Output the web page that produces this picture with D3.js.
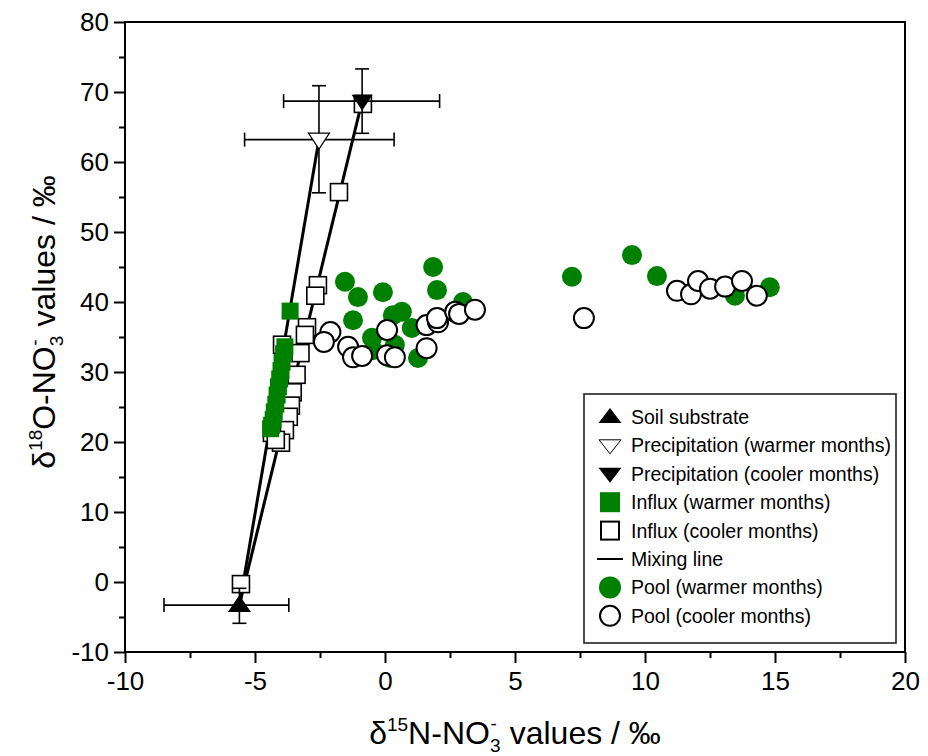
<!DOCTYPE html>
<html>
<head>
<meta charset="utf-8">
<script src="https://cdn.jsdelivr.net/npm/d3@7"></script>
<style>
  body { margin: 0; background: #fff; }
  svg { font-family: "Liberation Sans", Arial, sans-serif; }
</style>
</head>
<body>
<div id="chart"></div>
<script>
// ---- data (‰) ----
const soil = [{ x: -5.6, y: -3.3, xLo: -8.5, xHi: -3.7, yLo: -5.9, yHi: -0.9 }];
const precipWarm = [{ x: -2.54, y: 63.2, xLo: -5.4, xHi: 0.35, yLo: 55.6, yHi: 70.9 }];
const precipCool = [{ x: -0.88, y: 68.7, xLo: -3.9, xHi: 2.1, yLo: 64.1, yHi: 73.3 }];

const influxCool = [
  [-0.85, 68.3], [-1.77, 55.7], [-2.58, 42.4], [-2.68, 40.9], [-3.0, 36.4],
  [-3.08, 35.3], [-3.25, 32.7], [-3.4, 29.6], [-3.55, 27.1], [-3.62, 25.2],
  [-3.7, 23.6], [-3.85, 21.7], [-4.0, 19.9], [-3.96, 33.9], [-4.35, 21.3],
  [-4.2, 20.3], [-5.54, -0.3]
];
const influxWarm = [
  [-3.65, 38.7], [-3.85, 33.6], [-3.9, 32.6], [-3.96, 31.4], [-4.0, 30.2],
  [-4.05, 29.0], [-4.1, 27.9], [-4.15, 26.7], [-4.2, 25.4], [-4.26, 24.3],
  [-4.3, 23.2], [-4.36, 22.4], [-4.4, 21.9]
];
const poolWarm = [
  [-1.54, 42.9], [-1.04, 40.7], [-1.23, 37.4], [-0.08, 41.4], [1.85, 45.0],
  [2.0, 41.7], [0.3, 38.1], [0.65, 38.6], [1.03, 36.3], [-0.5, 34.9],
  [0.2, 32.0], [0.38, 33.9], [1.27, 32.0], [3.0, 40.0], [-0.46, 33.1],
  [7.19, 43.6], [9.5, 46.7], [10.46, 43.7], [13.46, 40.9], [14.8, 42.1]
];
const poolCool = [
  [-2.1, 35.7], [-2.35, 34.3], [-1.42, 33.6], [-1.23, 32.1], [-0.88, 32.3],
  [0.08, 36.0], [0.08, 32.4], [0.38, 32.1], [1.6, 36.7], [1.6, 33.4],
  [2.04, 37.1], [2.0, 37.7], [2.7, 38.6], [2.85, 38.3], [3.46, 38.9],
  [7.65, 37.7], [11.23, 41.6], [11.77, 41.1], [12.04, 43.0], [12.5, 41.9],
  [13.08, 42.2], [13.73, 43.0], [14.3, 40.9]
];

const xTicks = [-10, -5, 0, 5, 10, 15, 20];
const xMinor = [-7.5, -2.5, 2.5, 7.5, 12.5, 17.5];
const yTicks = [-10, 0, 10, 20, 30, 40, 50, 60, 70, 80];
const yMinor = [-5, 5, 15, 25, 35, 45, 55, 65, 75];

const legendItems = [
  { type: 'triUp', label: 'Soil substrate' },
  { type: 'triDownOpen', label: 'Precipitation (warmer months)' },
  { type: 'triDown', label: 'Precipitation (cooler months)' },
  { type: 'sqGreen', label: 'Influx (warmer months)' },
  { type: 'sqOpen', label: 'Influx (cooler months)' },
  { type: 'line', label: 'Mixing line' },
  { type: 'circGreen', label: 'Pool (warmer months)' },
  { type: 'circOpen', label: 'Pool (cooler months)' }
];

const GREEN = '#008000';
const W = 928, H = 756;
const PL = 125, PR = 905, PT = 22, PB = 652;

const svg = d3.select('#chart').append('svg').attr('width', W).attr('height', H);
const x = d3.scaleLinear().domain([-10, 20]).range([PL, PR]);
const y = d3.scaleLinear().domain([-10, 80]).range([PB, PT]);

// triangle paths (w x h)
function triPath(up, w, h) {
  return up
    ? `M0,${-h * 0.6}L${w / 2},${h * 0.4}L${-w / 2},${h * 0.4}Z`
    : `M0,${h * 0.6}L${w / 2},${-h * 0.4}L${-w / 2},${-h * 0.4}Z`;
}

// ---- axes ----
const xAxis = svg.append('g').attr('transform', `translate(0,${PB})`)
  .call(d3.axisBottom(x).tickValues(xTicks).tickSize(11).tickPadding(9).tickFormat(d3.format('d')));
const xAxisMinor = svg.append('g').attr('transform', `translate(0,${PB})`)
  .call(d3.axisBottom(x).tickValues(xMinor).tickSize(6).tickFormat(''));
const yAxis = svg.append('g').attr('transform', `translate(${PL},0)`)
  .call(d3.axisLeft(y).tickValues(yTicks).tickSize(11).tickPadding(5).tickFormat(d3.format('d')));
const yAxisMinor = svg.append('g').attr('transform', `translate(${PL},0)`)
  .call(d3.axisLeft(y).tickValues(yMinor).tickSize(6).tickFormat(''));

[xAxis, xAxisMinor, yAxis, yAxisMinor].forEach(g => {
  g.select('.domain').remove();
  g.selectAll('line').attr('stroke', '#000').attr('stroke-width', 2);
  g.selectAll('text').attr('font-size', 26).attr('fill', '#000')
    .attr('font-family', '"Liberation Sans", Arial, sans-serif');
});
xAxis.selectAll('text').text(d => d < 0 ? '-' + Math.abs(d) : d);
yAxis.selectAll('text').text(d => d < 0 ? '-' + Math.abs(d) : d);

svg.append('rect').attr('x', PL).attr('y', PT)
  .attr('width', PR - PL).attr('height', PB - PT)
  .attr('fill', 'none').attr('stroke', '#000').attr('stroke-width', 2);

// ---- axis titles ----
function title(g, iso) {
  g.append('tspan').text('δ');
  g.append('tspan').attr('font-size', 19).attr('dy', -13).text(iso[0]);
  g.append('tspan').attr('dy', 13).text(iso[1] + '-NO');
  g.append('tspan').attr('font-size', 19).attr('dy', 8).text('3');
  g.append('tspan').attr('font-size', 19).attr('dy', -22).attr('dx', -10).text('-');
  g.append('tspan').attr('dy', 14).attr('dx', 4).text(' values / ‰');
}
const xt = svg.append('text').attr('x', 515).attr('y', 744)
  .attr('text-anchor', 'middle').attr('font-size', 32);
title(xt, ['15', 'N']);
const yt = svg.append('text').attr('transform', `translate(55,322) rotate(-90)`)
  .attr('text-anchor', 'middle').attr('font-size', 32);
title(yt, ['18', 'O']);

// ---- plot layer ----
const plot = svg.append('g');

// mixing lines
[precipWarm[0], precipCool[0]].forEach(p => {
  plot.append('line')
    .attr('x1', x(soil[0].x)).attr('y1', y(soil[0].y))
    .attr('x2', x(p.x)).attr('y2', y(p.y))
    .attr('stroke', '#000').attr('stroke-width', 3);
});

// influx squares
const SQ = 17;
plot.selectAll('rect.ic').data(influxCool).enter().append('rect')
  .attr('class', 'ic')
  .attr('x', d => x(d[0]) - SQ / 2).attr('y', d => y(d[1]) - SQ / 2)
  .attr('width', SQ).attr('height', SQ)
  .attr('fill', '#fff').attr('stroke', '#000').attr('stroke-width', 1.6);
plot.selectAll('rect.iw').data(influxWarm).enter().append('rect')
  .attr('class', 'iw')
  .attr('x', d => x(d[0]) - SQ / 2).attr('y', d => y(d[1]) - SQ / 2)
  .attr('width', SQ).attr('height', SQ)
  .attr('fill', GREEN);

// error bars
const CAP = 7;
soil.concat(precipWarm, precipCool).forEach(p => {
  const g = plot.append('g').attr('stroke', '#000').attr('stroke-width', 1.6);
  g.append('line').attr('x1', x(p.xLo)).attr('x2', x(p.xHi)).attr('y1', y(p.y)).attr('y2', y(p.y));
  g.append('line').attr('x1', x(p.xLo)).attr('x2', x(p.xLo)).attr('y1', y(p.y) - CAP).attr('y2', y(p.y) + CAP);
  g.append('line').attr('x1', x(p.xHi)).attr('x2', x(p.xHi)).attr('y1', y(p.y) - CAP).attr('y2', y(p.y) + CAP);
  g.append('line').attr('x1', x(p.x)).attr('x2', x(p.x)).attr('y1', y(p.yLo)).attr('y2', y(p.yHi));
  g.append('line').attr('x1', x(p.x) - CAP).attr('x2', x(p.x) + CAP).attr('y1', y(p.yLo)).attr('y2', y(p.yLo));
  g.append('line').attr('x1', x(p.x) - CAP).attr('x2', x(p.x) + CAP).attr('y1', y(p.yHi)).attr('y2', y(p.yHi));
});

// pool circles
const R = 10;
plot.selectAll('circle.pw').data(poolWarm).enter().append('circle')
  .attr('class', 'pw').attr('cx', d => x(d[0])).attr('cy', d => y(d[1]))
  .attr('r', R).attr('fill', GREEN);
plot.selectAll('circle.pc').data(poolCool).enter().append('circle')
  .attr('class', 'pc').attr('cx', d => x(d[0])).attr('cy', d => y(d[1]))
  .attr('r', R).attr('fill', '#fff').attr('stroke', '#000').attr('stroke-width', 2);

// end members
plot.selectAll('path.soil').data(soil).enter().append('path')
  .attr('transform', d => `translate(${x(d.x)},${y(d.y)})`)
  .attr('d', triPath(true, 23, 17)).attr('fill', '#000');
plot.selectAll('path.pw').data(precipWarm).enter().append('path')
  .attr('transform', d => `translate(${x(d.x)},${y(d.y)})`)
  .attr('d', triPath(false, 21, 16)).attr('fill', '#fff').attr('stroke', '#000').attr('stroke-width', 1.2);
plot.selectAll('path.pc').data(precipCool).enter().append('path')
  .attr('transform', d => `translate(${x(d.x)},${y(d.y)})`)
  .attr('d', triPath(false, 21, 16)).attr('fill', '#000');

// ---- legend ----
const LX = 584, LY = 394, LW = 312, LH = 249, ROW = 28.4;
const leg = svg.append('g');
leg.append('rect').attr('x', LX).attr('y', LY).attr('width', LW).attr('height', LH)
  .attr('fill', '#fff').attr('stroke', '#222').attr('stroke-width', 1.6);
const rows = leg.selectAll('g.row').data(legendItems).enter().append('g')
  .attr('transform', (d, i) => `translate(${LX + 26},${LY + 23 + i * ROW})`);
rows.each(function (d) {
  const g = d3.select(this);
  if (d.type === 'triUp') g.append('path').attr('d', triPath(true, 23, 15)).attr('fill', '#000');
  if (d.type === 'triDownOpen') g.append('path').attr('d', triPath(false, 22, 14))
    .attr('fill', '#fff').attr('stroke', '#000').attr('stroke-width', 1);
  if (d.type === 'triDown') g.append('path').attr('d', triPath(false, 23, 15)).attr('fill', '#000');
  if (d.type === 'sqGreen') g.append('rect').attr('x', -10).attr('y', -10).attr('width', 20).attr('height', 20).attr('fill', GREEN);
  if (d.type === 'sqOpen') g.append('rect').attr('x', -9).attr('y', -9).attr('width', 18).attr('height', 18)
    .attr('fill', '#fff').attr('stroke', '#000').attr('stroke-width', 2);
  if (d.type === 'line') g.append('line').attr('x1', -13).attr('x2', 13).attr('stroke', '#000').attr('stroke-width', 2);
  if (d.type === 'circGreen') g.append('circle').attr('r', 11).attr('fill', GREEN);
  if (d.type === 'circOpen') g.append('circle').attr('r', 10).attr('fill', '#fff').attr('stroke', '#000').attr('stroke-width', 2);
  g.append('text').attr('x', 21).attr('y', 7).attr('font-size', 19.5).attr('fill', '#000').text(d.label);
});
</script>
</body>
</html>
